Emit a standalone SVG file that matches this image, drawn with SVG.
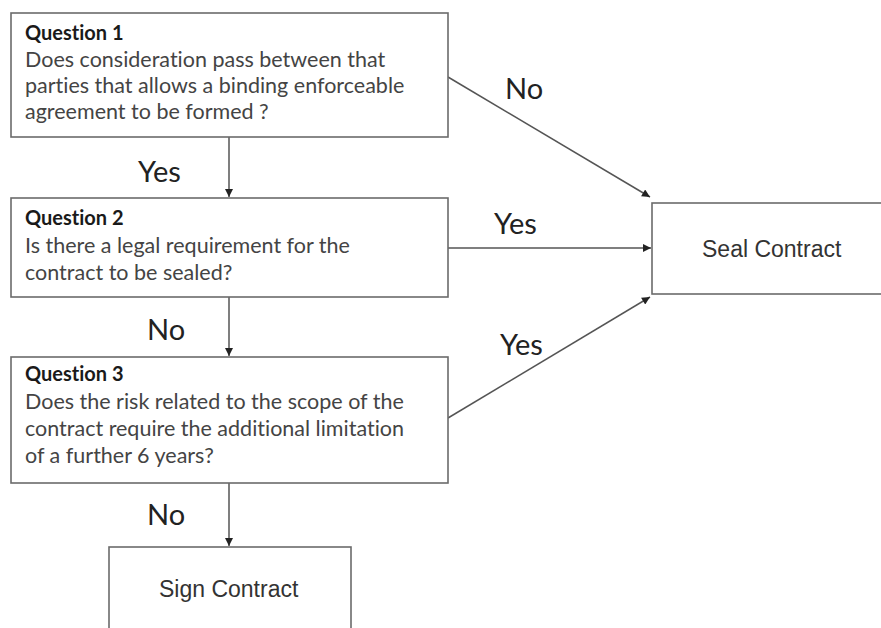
<svg xmlns="http://www.w3.org/2000/svg" width="881" height="628" viewBox="0 0 881 628">
<style>
.box{fill:#fff;stroke:#6b6b6b;stroke-width:1.6}
.hd{font-family:Lato,"Open Sans",sans-serif;font-weight:bold;font-size:20px;fill:#1a1a1a;font-variant-ligatures:none}
.bd{font-family:Lato,"Open Sans",sans-serif;font-size:21.5px;fill:#444;font-variant-ligatures:none}
.lbl{font-family:Lato,"Open Sans",sans-serif;font-size:29px;fill:#222}
.out{font-family:"Liberation Sans",Arial,sans-serif;font-size:23px;fill:#333}
.con{stroke:#555;stroke-width:1.5;fill:none;marker-end:url(#ah)}
</style>
<defs>
<marker id="ah" viewBox="0 0 10 10" refX="10" refY="5" markerWidth="9" markerHeight="8" orient="auto" markerUnits="userSpaceOnUse">
<path d="M0,0 L10,5 L0,10 z" fill="#222"/>
</marker>
</defs>
<rect width="881" height="628" fill="#fff"/>
<g id="connectors">
<line class="con" x1="229" y1="137" x2="229" y2="197"/>
<line class="con" x1="229" y1="297" x2="229" y2="356"/>
<line class="con" x1="229" y1="483" x2="229" y2="546"/>
<line class="con" x1="448" y1="77" x2="650" y2="197"/>
<line class="con" x1="448" y1="248" x2="651" y2="248"/>
<line class="con" x1="448" y1="418" x2="650" y2="297"/>
<text class="lbl" x="138" y="182">Yes</text>
<text class="lbl" x="147" y="340">No</text>
<text class="lbl" x="147" y="525">No</text>
<text class="lbl" x="505" y="99">No</text>
<text class="lbl" x="494" y="234">Yes</text>
<text class="lbl" x="500" y="355">Yes</text>
</g>
<g id="q1">
<rect class="box" x="11" y="13" width="437" height="124"/>
<text class="hd" x="25" y="40">Question 1</text>
<text class="bd" x="25" y="67">Does consideration pass between that</text>
<text class="bd" x="25" y="93">parties that allows a binding enforceable</text>
<text class="bd" x="25" y="119">agreement to be formed ?</text>
</g>
<g id="q2">
<rect class="box" x="11" y="198" width="437" height="99"/>
<text class="hd" x="25" y="225">Question 2</text>
<text class="bd" x="25" y="253">Is there a legal requirement for the</text>
<text class="bd" x="25" y="280">contract to be sealed?</text>
</g>
<g id="q3">
<rect class="box" x="11" y="357" width="437" height="126"/>
<text class="hd" x="25" y="381">Question 3</text>
<text class="bd" x="25" y="409">Does the risk related to the scope of the</text>
<text class="bd" x="25" y="436">contract require the additional limitation</text>
<text class="bd" x="25" y="463">of a further 6 years?</text>
</g>
<g id="seal">
<rect class="box" x="652" y="203" width="240" height="91"/>
<text class="out" x="702" y="257">Seal Contract</text>
</g>
<g id="sign">
<rect class="box" x="109" y="547" width="242" height="100"/>
<text class="out" x="159" y="597">Sign Contract</text>
</g>
</svg>
